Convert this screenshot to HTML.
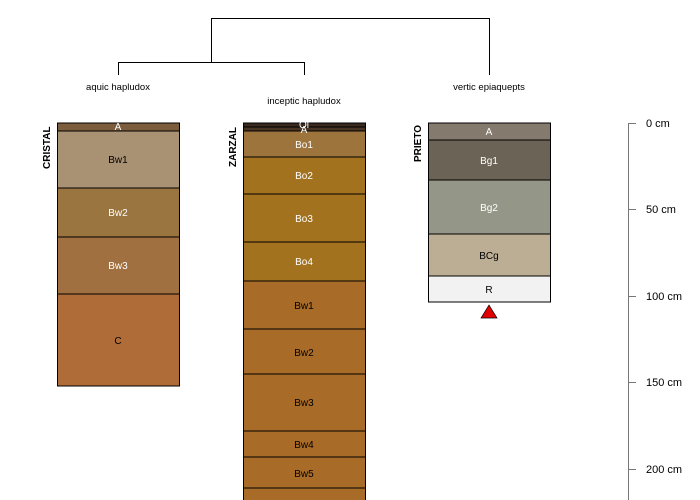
<!DOCTYPE html>
<html><head><style>body{margin:0;background:#fff}svg{display:block}text{font-family:"Liberation Sans",sans-serif}</style></head><body>
<svg width="700" height="500" viewBox="0 0 700 500" xmlns="http://www.w3.org/2000/svg">
<g stroke="#000" stroke-width="1" fill="none">
<path d="M211.5 62V18.5H489.5V75"/>
<path d="M118.5 75V62.5H304.5V75"/>
</g>
<g font-size="9.5" text-anchor="middle" fill="#000">
<text x="118" y="90">aquic hapludox</text>
<text x="304" y="104">inceptic hapludox</text>
<text x="489" y="90">vertic epiaquepts</text>
</g>
<g font-size="10" font-weight="bold" fill="#000">
<text transform="translate(50,169) rotate(-90)">CRISTAL</text>
<text transform="translate(236,167) rotate(-90)">ZARZAL</text>
<text transform="translate(421,162) rotate(-90)">PRIETO</text>
</g>
<g stroke="#000" stroke-width="1">
<rect x="57.5" y="123" width="122" height="8" fill="#7b5c3c"/>
<rect x="57.5" y="131" width="122" height="57" fill="#a99274"/>
<rect x="57.5" y="188" width="122" height="49" fill="#9a7540"/>
<rect x="57.5" y="237" width="122" height="57" fill="#a07040"/>
<rect x="57.5" y="294" width="122" height="92" fill="#b06c38"/>

<rect x="243.5" y="123" width="122" height="4" fill="#3a2a20"/>
<rect x="243.5" y="127" width="122" height="4" fill="#4a3525"/>
<rect x="243.5" y="131" width="122" height="26" fill="#9d743c"/>
<rect x="243.5" y="157" width="122" height="37" fill="#a3721f"/>
<rect x="243.5" y="194" width="122" height="48" fill="#a3721f"/>
<rect x="243.5" y="242" width="122" height="39" fill="#a3721f"/>
<rect x="243.5" y="281" width="122" height="48" fill="#a86c28"/>
<rect x="243.5" y="329" width="122" height="45" fill="#a86c28"/>
<rect x="243.5" y="374" width="122" height="57" fill="#a86c28"/>
<rect x="243.5" y="431" width="122" height="26" fill="#a86c28"/>
<rect x="243.5" y="457" width="122" height="31" fill="#a86c28"/>
<rect x="243.5" y="488" width="122" height="20" fill="#a86c28"/>

<rect x="428.5" y="123" width="122" height="17" fill="#857a6e"/>
<rect x="428.5" y="140" width="122" height="40" fill="#6b6355"/>
<rect x="428.5" y="180" width="122" height="54" fill="#949688"/>
<rect x="428.5" y="234" width="122" height="42" fill="#bbae94"/>
<rect x="428.5" y="276" width="122" height="26" fill="#f2f2f2"/>
</g>
<polygon points="489,305 481,318 497,318" fill="#e00000" stroke="#000" stroke-width="0.7"/>
<g font-size="10" text-anchor="middle">
<text x="118" y="130" fill="#fff">A</text>
<text x="118" y="163" fill="#000">Bw1</text>
<text x="118" y="216" fill="#fff">Bw2</text>
<text x="118" y="269" fill="#fff">Bw3</text>
<text x="118" y="344" fill="#000">C</text>
<text x="304" y="128" fill="#fff">Oi</text>
<text x="304" y="133" fill="#fff">A</text>
<text x="304" y="148" fill="#fff">Bo1</text>
<text x="304" y="179" fill="#fff">Bo2</text>
<text x="304" y="222" fill="#fff">Bo3</text>
<text x="304" y="265" fill="#fff">Bo4</text>
<text x="304" y="309" fill="#000">Bw1</text>
<text x="304" y="356" fill="#000">Bw2</text>
<text x="304" y="406" fill="#000">Bw3</text>
<text x="304" y="448" fill="#000">Bw4</text>
<text x="304" y="477" fill="#000">Bw5</text>
<text x="489" y="135" fill="#fff">A</text>
<text x="489" y="164" fill="#fff">Bg1</text>
<text x="489" y="211" fill="#fff">Bg2</text>
<text x="489" y="259" fill="#000">BCg</text>
<text x="489" y="293" fill="#000">R</text>
</g>
<g stroke="#777" stroke-width="1">
<line x1="628.5" y1="123" x2="628.5" y2="500"/>
<line x1="628" y1="123.5" x2="636" y2="123.5"/>
<line x1="628" y1="209.5" x2="636" y2="209.5"/>
<line x1="628" y1="296.5" x2="636" y2="296.5"/>
<line x1="628" y1="382.5" x2="636" y2="382.5"/>
<line x1="628" y1="469.5" x2="636" y2="469.5"/>
</g>
<g font-size="11" fill="#000">
<text x="646" y="127">0 cm</text>
<text x="646" y="213">50 cm</text>
<text x="646" y="300">100 cm</text>
<text x="646" y="386">150 cm</text>
<text x="646" y="473">200 cm</text>
</g>
</svg>
</body></html>
